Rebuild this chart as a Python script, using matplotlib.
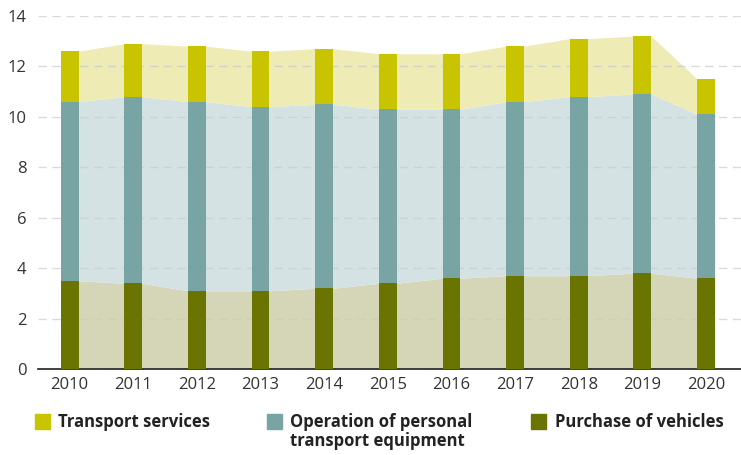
import matplotlib
matplotlib.use("Agg")
import matplotlib.pyplot as plt
import numpy as np
from matplotlib.patches import Rectangle

years = [2010, 2011, 2012, 2013, 2014, 2015, 2016, 2017, 2018, 2019, 2020]
purchase = [3.5, 3.4, 3.1, 3.1, 3.2, 3.4, 3.6, 3.7, 3.7, 3.8, 3.6]
operation = [7.1, 7.4, 7.5, 7.3, 7.3, 6.9, 6.7, 6.9, 7.1, 7.1, 6.5]
services = [2.0, 2.1, 2.2, 2.2, 2.2, 2.2, 2.2, 2.2, 2.3, 2.3, 1.4]
labels = ["Transport services", "Operation of personal\ntransport equipment", "Purchase of vehicles"]

col_serv = "#c8c400"
col_oper = "#78a4a4"
col_purc = "#6a7400"
fill_serv = "#eeebb4"
fill_oper = "#d5e2e3"
fill_purc = "#d4d6b7"

plt.rcParams["font.family"] = ["Open Sans", "DejaVu Sans"]

fig = plt.figure(figsize=(7.41, 4.55), dpi=100)
ax = fig.add_axes([0.051, 0.189, 0.949, 0.776])

x = np.array(years, dtype=float)
w = 0.28
p = np.array(purchase)
o = p + np.array(operation)
t = o + np.array(services)

# shaded bands joining the bar edges
xe = np.ravel(np.column_stack([x - w / 2, x + w / 2]))
rep = lambda a: np.repeat(a, 2)
ax.fill_between(xe, 0, rep(p), color=fill_purc, lw=0, zorder=1)
ax.fill_between(xe, rep(p), rep(o), color=fill_oper, lw=0, zorder=1)
ax.fill_between(xe, rep(o), rep(t), color=fill_serv, lw=0, zorder=1)

ax.bar(x, purchase, w, color=col_purc, zorder=3)
ax.bar(x, operation, w, bottom=p, color=col_oper, zorder=3)
ax.bar(x, services, w, bottom=o, color=col_serv, zorder=3)

ax.set_xlim(2009.5, 2020.55)
ax.set_ylim(0, 14)
ax.set_yticks(range(0, 15, 2))
ax.set_xticks(years)
ax.yaxis.grid(True, color="#c5ccd2", ls=(0, (6, 4)), lw=1, alpha=0.7, zorder=2)
for s in ["left", "right", "top"]:
    ax.spines[s].set_visible(False)
ax.spines["bottom"].set_color("#222222")
ax.spines["bottom"].set_linewidth(1.2)
ax.tick_params(axis="both", length=0, labelsize=12, colors="#333333")
ax.tick_params(axis="x", pad=6)
ax.tick_params(axis="y", pad=8)
for lab in ax.get_yticklabels():
    lab.set_horizontalalignment("right")

# legend row
items = [(35, 58, col_serv), (267, 290, col_oper), (531, 555, col_purc)]
for (sx, tx, c), lab in zip(items, labels):
    fig.patches.append(Rectangle((sx / 741, 1 - 429 / 455), 15 / 741, 15 / 455,
                                 transform=fig.transFigure, color=c))
    fig.text(tx / 741, 1 - 413 / 455, lab, ha="left", va="top", fontsize=12,
             fontweight="bold", color="#222222", linespacing=1.1)

fig.savefig("out.png", dpi=100)
